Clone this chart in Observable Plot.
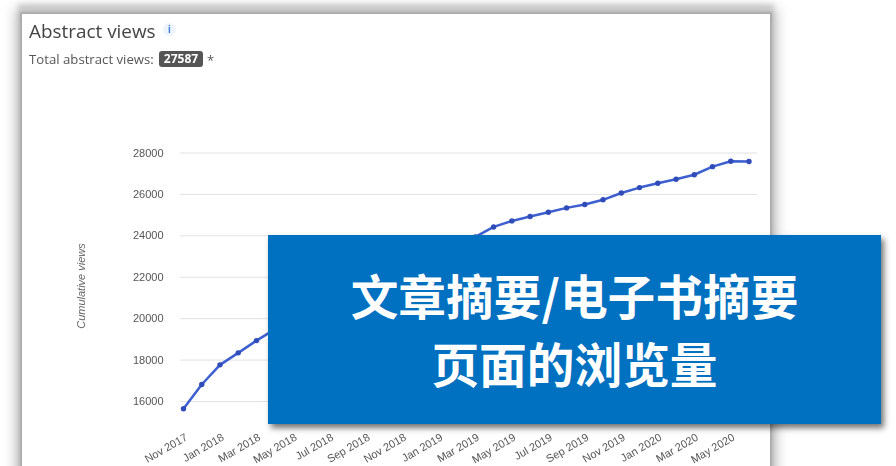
<!DOCTYPE html>
<html>
<head>
<meta charset="utf-8">
<script src="https://cdn.jsdelivr.net/npm/d3@7"></script>
<script src="https://cdn.jsdelivr.net/npm/@observablehq/plot@0.6"></script>
<style>
html,body{margin:0;padding:0;background:#fff;overflow:hidden}
#stage{position:relative;width:896px;height:466px;overflow:hidden;background:#fff}
#panel{position:absolute;left:22px;top:14px;width:748px;height:480px;background:#fff;box-shadow:0 0 2px 2px #aaa,0 0 12px 6px #bbb,0 -6px 4px 4px #ddd}
#soft{position:absolute;left:0;top:0;width:896px;height:466px;filter:blur(.55px)}
#chart{position:absolute;left:0;top:0}
#chart svg{background:transparent}
.t{position:absolute;white-space:nowrap;font-family:"Open Sans",sans-serif}
#title{left:29px;top:18px;font-size:18.9px;line-height:26px;color:#444}
#info{left:163px;top:23px;width:13px;height:13px;border-radius:50%;background:#eef4fb;text-align:center;font-size:10px;line-height:13px;font-weight:700;color:#3a7fd5;font-family:"Liberation Sans",sans-serif}
#sub{left:29px;top:50px;font-size:13.2px;line-height:18px;color:#555}
#badge{left:159px;top:51px;width:44px;height:16px;line-height:16px;text-align:center;background:#555;color:#fff;border-radius:3px;font-size:12px;font-weight:700}
#star{left:207px;top:51px;font-size:13px;line-height:18px;color:#555}
#ylab{left:81px;top:286px;font-family:"Liberation Sans",sans-serif;font-style:italic;font-size:11px;color:#666;transform:translate(-50%,-50%) rotate(-90deg)}
#box{position:absolute;left:268px;top:235px;width:613px;height:189px;background:#0070c0;box-shadow:3px 4px 6px rgba(0,0,0,.55);color:#fff;font-family:"Noto Sans CJK SC",sans-serif;font-weight:700;text-align:center}
#box div{position:absolute;left:0;width:613px;font-size:47.7px;line-height:60px;white-space:nowrap}
</style>
</head>
<body>
<div id="stage">
  <div id="soft">
    <div id="panel"></div>
    <div id="chart"></div>
    <div class="t" id="title">Abstract views</div>
    <div class="t" id="info">i</div>
    <div class="t" id="sub">Total abstract views:</div>
    <div class="t" id="badge">27587</div>
    <div class="t" id="star">*</div>
    <div class="t" id="ylab">Cumulative views</div>
  </div>
  <div id="box">
    <div style="top:30px">文章摘要/电子书摘要</div>
    <div style="top:98px;">页面的浏览量</div>
  </div>
</div>
<script>
const months = ["Nov 2017","Dec 2017","Jan 2018","Feb 2018","Mar 2018","Apr 2018","May 2018","Jun 2018","Jul 2018","Aug 2018","Sep 2018","Oct 2018","Nov 2018","Dec 2018","Jan 2019","Feb 2019","Mar 2019","Apr 2019","May 2019","Jun 2019","Jul 2019","Aug 2019","Sep 2019","Oct 2019","Nov 2019","Dec 2019","Jan 2020","Feb 2020","Mar 2020","Apr 2020","May 2020","Jun 2020"];
const views = [15650,16820,17770,18350,18940,19480,19950,20400,20800,21150,21500,21850,22200,22550,22900,23400,23950,24430,24720,24930,25140,25350,25510,25740,26070,26330,26540,26730,26950,27340,27600,27587];
const xTicks = ["Nov 2017","Jan 2018","Mar 2018","May 2018","Jul 2018","Sep 2018","Nov 2018","Jan 2019","Mar 2019","May 2019","Jul 2019","Sep 2019","Nov 2019","Jan 2020","Mar 2020","May 2020"];
const yTicks = [16000,18000,20000,22000,24000,26000,28000];
const rows = months.map((m,i)=>({month:m,value:views[i]}));

const plot = Plot.plot({
  width:896, height:466,
  marginLeft:180, marginRight:139, marginTop:140, marginBottom:36,
  style:{background:"transparent",fontFamily:"'Liberation Sans',Arial,sans-serif",fontSize:"11px",color:"#555"},
  x:{type:"point",domain:months,range:[183,748.5],padding:0,round:false,label:null},
  y:{domain:[16000,28000],range:[401,152.5],label:null},
  marks:[
    Plot.ruleY(yTicks,{stroke:"#e2e2e2",strokeWidth:1}),
    Plot.axisY({ticks:yTicks,tickSize:0,tickPadding:17,tickFormat:d=>String(d),label:null,fill:"#555",fontSize:11}),
    Plot.axisX({ticks:xTicks,tickSize:0,tickPadding:6,tickRotate:-30,dx:3,label:null,fill:"#555",fontSize:11}),
    Plot.line(rows,{x:"month",y:"value",stroke:"#3d5fd0",strokeWidth:2.5,curve:"linear"}),
    Plot.dot(rows,{x:"month",y:"value",r:2.7,fill:"#2f4cb8"})
  ]
});
document.getElementById("chart").append(plot);
</script>
</body>
</html>
